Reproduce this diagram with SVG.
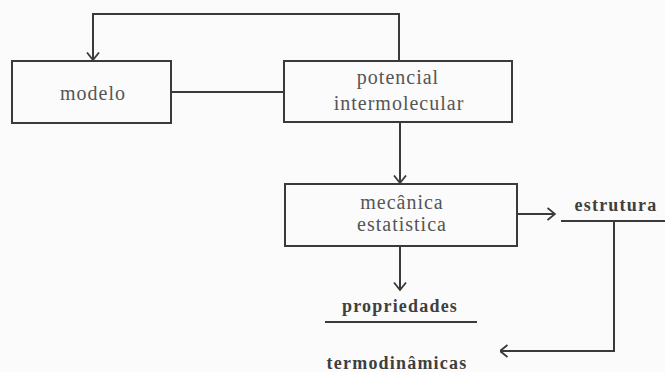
<svg xmlns="http://www.w3.org/2000/svg" width="665" height="372" viewBox="0 0 665 372">
<defs>
<marker id="arr" viewBox="0 0 9 14" refX="8.5" refY="7" markerWidth="9" markerHeight="14" markerUnits="userSpaceOnUse" orient="auto">
<path d="M1,1 L8.5,7 L1,13" fill="none" stroke="#3a3a3a" stroke-width="1.8"/>
</marker>
<style>
.box{fill:none;stroke:#3a3a3a;stroke-width:2}
.ln{fill:none;stroke:#3a3a3a;stroke-width:2}
.t{font-family:"Liberation Serif","Times New Roman",serif;font-size:20px;fill:#555;text-anchor:middle;letter-spacing:1px}
.b{font-family:"Liberation Serif","Times New Roman",serif;font-size:18px;font-weight:bold;fill:#3f3f3f;text-anchor:middle;letter-spacing:1.2px}
</style>
</defs>
<rect width="665" height="372" fill="#fbfbfb"/>
<g id="connectors">
<path class="ln" d="M399,61 V14 H93 V60" marker-end="url(#arr)"/>
<path class="ln" d="M171,92 H284"/>
<path class="ln" d="M400,122 V183" marker-end="url(#arr)"/>
<path class="ln" d="M517,214 H555" marker-end="url(#arr)"/>
<path class="ln" d="M400,246 V290" marker-end="url(#arr)"/>
<path class="ln" d="M614,221 V351 H500" marker-end="url(#arr)"/>
</g>
<g id="modelo">
<rect class="box" x="12" y="61" width="159" height="62"/>
<text class="t" x="93" y="100">modelo</text>
</g>
<g id="potencial">
<rect class="box" x="284" y="61" width="228" height="61"/>
<text class="t" x="398" y="84">potencial</text>
<text class="t" x="399" y="110">intermolecular</text>
</g>
<g id="mecanica">
<rect class="box" x="285" y="184" width="232" height="62"/>
<text class="t" x="402" y="209">mecânica</text>
<text class="t" x="402" y="231">estatistica</text>
</g>
<g id="estrutura">
<text class="b" x="616" y="211">estrutura</text>
<path class="ln" d="M561,221 H665"/>
</g>
<g id="propriedades">
<text class="b" x="400" y="312">propriedades</text>
<path class="ln" d="M325,322 H477"/>
<text class="b" x="397" y="369">termodinâmicas</text>
</g>
</svg>
